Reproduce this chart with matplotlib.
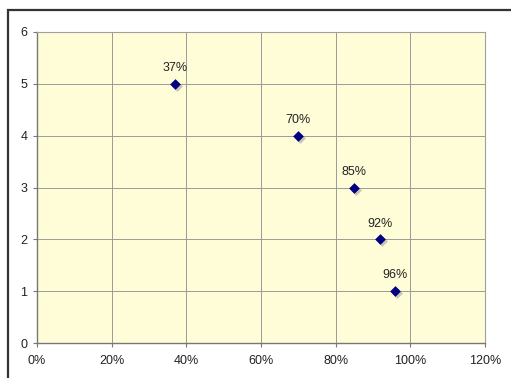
import matplotlib
matplotlib.use("Agg")
import matplotlib.pyplot as plt
import matplotlib.transforms as mtransforms
from matplotlib.patches import Rectangle
from matplotlib.ticker import FuncFormatter, MultipleLocator

# --- data ---
share = [0.37, 0.70, 0.85, 0.92, 0.96]
rank = [5, 4, 3, 2, 1]
point_labels = ["37%", "70%", "85%", "92%", "96%"]

plt.rcParams["font.family"] = ["Liberation Sans", "DejaVu Sans"]

fig = plt.figure(figsize=(5.11, 3.78), dpi=100)

# outer chart frame (runs off the right and bottom edges)
fig.patches.append(Rectangle((8 / 511, -0.05), 1.1, 1 - 10 / 378 + 0.05,
                             transform=fig.transFigure, fill=False,
                             edgecolor="#333333", linewidth=1.6))

ax = fig.add_axes([37 / 511, 1 - 343 / 378, 448 / 511, 311 / 378])
ax.set_facecolor("#FFFDD8")

# drop shadow, then markers
shadow = mtransforms.offset_copy(ax.transData, fig=fig, x=1.2, y=-1.5, units="points")
ax.scatter(share, rank, marker="D", s=30, color="#A0A0A0", alpha=0.6,
           transform=shadow, zorder=3, linewidths=0)
ax.scatter(share, rank, marker="D", s=30, color="#000080", zorder=4, linewidths=0)

for x, y, txt in zip(share, rank, point_labels):
    ax.annotate(txt, (x, y), xytext=(0, 7), textcoords="offset points",
                ha="center", va="bottom", fontsize=9, color="#222222")

ax.set_xlim(0, 1.2)
ax.set_ylim(0, 6)
ax.xaxis.set_major_locator(MultipleLocator(0.2))
ax.yaxis.set_major_locator(MultipleLocator(1))
ax.xaxis.set_major_formatter(FuncFormatter(lambda v, p: f"{v * 100:.0f}%"))
ax.grid(True, color="#9A9A9A", linewidth=0.7)
ax.set_axisbelow(True)

for side in ["top", "right"]:
    ax.spines[side].set_color("#A0A0A0")
    ax.spines[side].set_linewidth(0.8)
for side in ["left", "bottom"]:
    ax.spines[side].set_color("#777777")
    ax.spines[side].set_linewidth(1.0)

ax.tick_params(axis="both", direction="out", length=3, width=0.8,
               color="#777777", labelsize=9, labelcolor="#222222")
ax.tick_params(axis="x", pad=6)
ax.tick_params(axis="y", pad=4)

fig.savefig("out.png", dpi=100)
